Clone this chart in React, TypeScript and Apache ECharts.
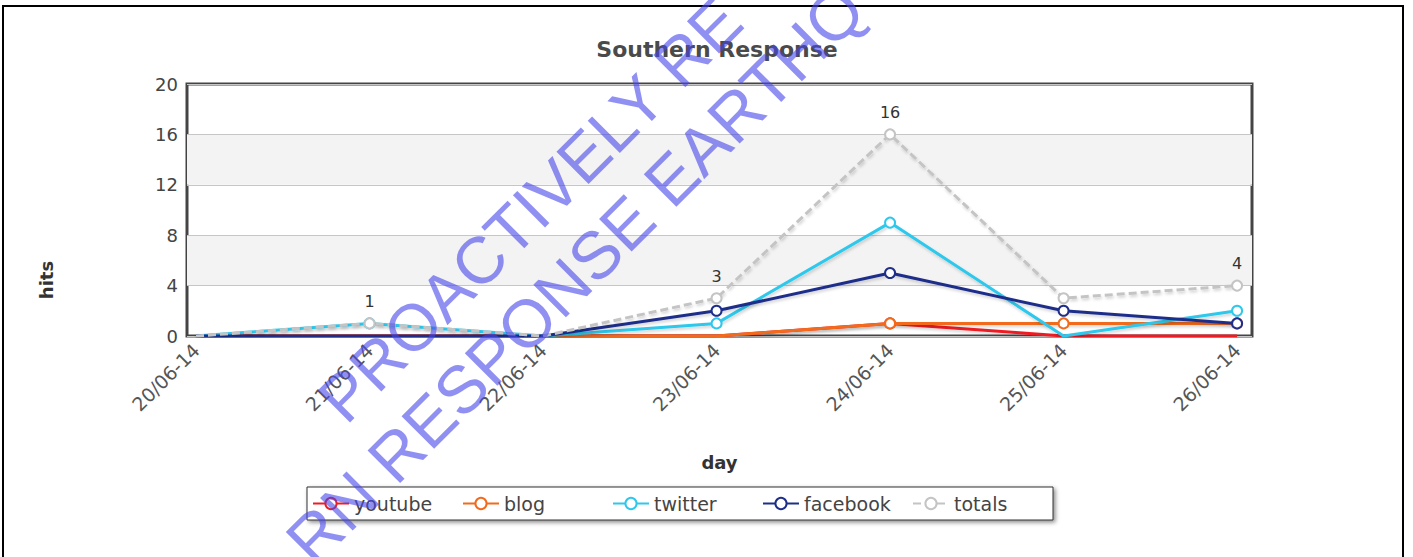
import React, { useEffect, useRef } from 'react';
import * as echarts from 'echarts';

const categories = ['20/06-14', '21/06-14', '22/06-14', '23/06-14', '24/06-14', '25/06-14', '26/06-14'];
const youtube = [0, 0, 0, 0, 1, 0, 0];
const blog = [0, 0, 0, 0, 1, 1, 1];
const twitter = [0, 1, 0, 1, 9, 0, 2];
const facebook = [0, 0, 0, 2, 5, 2, 1];
const totals = [0, 1, 0, 3, 16, 3, 4];
const totalsLabelShown = [false, true, false, true, true, false, true];
const seriesNames = ['youtube', 'blog', 'twitter', 'facebook', 'totals'];
const seriesColors = ['#ee1d23', '#f26b1d', '#2ec8ec', '#1f2e8a', '#c4c4c4'];
const titleText = 'Southern Response';
const yAxisTitle = 'hits';
const xAxisTitle = 'day';
const watermark1 = 'PROACTIVELY RE';
const watermark2 = 'RN RESPONSE EARTHQ';

const FONT = 'DejaVu Sans';
const LEGEND_LEFT = 307;
const LEGEND_TOP = 487;
const LEGEND_STEP = 150;

export default function App() {
  const ref = useRef<HTMLDivElement>(null);
  useEffect(() => {
    const chart = echarts.init(ref.current!, null, { renderer: 'svg' });
    const allValues = [youtube, blog, twitter, facebook, totals];
    const series = allValues.map((vals, si) => {
      const color = seriesColors[si];
      const isTotals = si === 4;
      return {
        name: seriesNames[si],
        type: 'line',
        z: 2 + si,
        color,
        symbol: 'emptyCircle',
        symbolSize: 10,
        data: vals.map((v, i) => {
          const item: any = { value: [i, v] };
          if (v === 0) item.symbol = 'none';
          if (isTotals) item.label = { show: totalsLabelShown[i] };
          return item;
        }),
        lineStyle: {
          width: 3,
          color,
          type: isTotals ? [8, 4] : 'solid',
          shadowBlur: 3,
          shadowOffsetX: 1,
          shadowOffsetY: 2,
          shadowColor: 'rgba(0,0,0,0.18)',
        },
        itemStyle: { color, borderColor: color, borderWidth: 2 },
        label: {
          show: false,
          position: 'top',
          distance: 8,
          fontSize: 16,
          color: '#333',
          fontFamily: FONT,
        },
      };
    });

    const legends = seriesNames.map((name, i) => ({
      left: LEGEND_LEFT + 5 + i * LEGEND_STEP,
      top: LEGEND_TOP + 1,
      orient: 'horizontal',
      itemWidth: 36,
      itemHeight: 14,
      padding: [6, 0, 6, 0],
      textStyle: { fontSize: 19, color: '#444', fontFamily: FONT },
      data: [name],
    }));

    chart.setOption({
      animation: false,
      backgroundColor: '#ffffff',
      title: {
        text: titleText,
        left: 712,
        top: 33,
        textAlign: 'center',
        textStyle: { fontSize: 22, fontWeight: 'bold', color: '#4a4a4a', fontFamily: FONT },
      },
      grid: {
        left: 187,
        right: 161,
        top: 84,
        bottom: 221,
        show: true,
        borderColor: '#444',
        borderWidth: 3,
        backgroundColor: 'transparent',
      },
      legend: legends,
      xAxis: {
        type: 'value',
        min: -0.052,
        max: 6.086,
        axisLine: { show: false },
        axisTick: { show: false },
        splitLine: { show: false },
        axisLabel: {
          customValues: categories.map((_, i) => i),
          rotate: 45,
          margin: 11,
          fontSize: 19,
          color: '#555',
          fontFamily: FONT,
          formatter: (v: number) => categories[Math.round(v)] ?? '',
        },
        name: xAxisTitle,
        nameLocation: 'middle',
        nameGap: 117,
        nameTextStyle: { fontWeight: 'bold', fontSize: 18, color: '#333', fontFamily: FONT },
      },
      yAxis: {
        type: 'value',
        min: 0,
        max: 20,
        interval: 4,
        axisLine: { show: false },
        axisTick: { show: false },
        splitLine: { lineStyle: { color: '#c6c6c6', width: 1 } },
        splitArea: { show: true, areaStyle: { color: ['rgba(255,255,255,0)', '#f3f3f3'] } },
        axisLabel: { fontSize: 18, color: '#444', margin: 9, fontFamily: FONT },
      },
      graphic: [
        {
          type: 'rect',
          z: 0,
          shape: { x: LEGEND_LEFT, y: LEGEND_TOP, width: 746, height: 33 },
          style: {
            fill: '#fff',
            stroke: '#333',
            lineWidth: 1,
            shadowBlur: 4,
            shadowOffsetX: 2,
            shadowOffsetY: 2,
            shadowColor: 'rgba(0,0,0,0.45)',
          },
        },
        {
          type: 'rect',
          z: 50,
          shape: { x: 3, y: 6, width: 1400, height: 560 },
          style: { fill: 'none', stroke: '#000', lineWidth: 2 },
        },
        {
          type: 'text',
          x: 46,
          y: 280,
          rotation: Math.PI / 2,
          z: 50,
          style: {
            text: yAxisTitle,
            fontSize: 18,
            fontWeight: 'bold',
            fill: '#333',
            fontFamily: FONT,
            textAlign: 'center',
            textVerticalAlign: 'middle',
          },
        },
        {
          type: 'text',
          x: 330,
          y: 410,
          rotation: Math.PI / 4,
          z: 200,
          style: {
            text: watermark1,
            fontSize: 66,
            fontFamily: 'Liberation Sans',
            fill: 'rgba(70,70,235,0.6)',
            textAlign: 'left',
            textVerticalAlign: 'middle',
          },
        },
        {
          type: 'text',
          x: 298,
          y: 552,
          rotation: Math.PI / 4,
          z: 200,
          style: {
            text: watermark2,
            fontSize: 67,
            fontFamily: 'Liberation Sans',
            fill: 'rgba(70,70,235,0.6)',
            textAlign: 'left',
            textVerticalAlign: 'middle',
          },
        },
      ],
      series,
    });
    return () => chart.dispose();
  }, []);
  return (
    <div
      ref={ref}
      style={{ position: 'fixed', left: 0, top: 0, width: 1413, height: 557, background: '#fff' }}
    />
  );
}
